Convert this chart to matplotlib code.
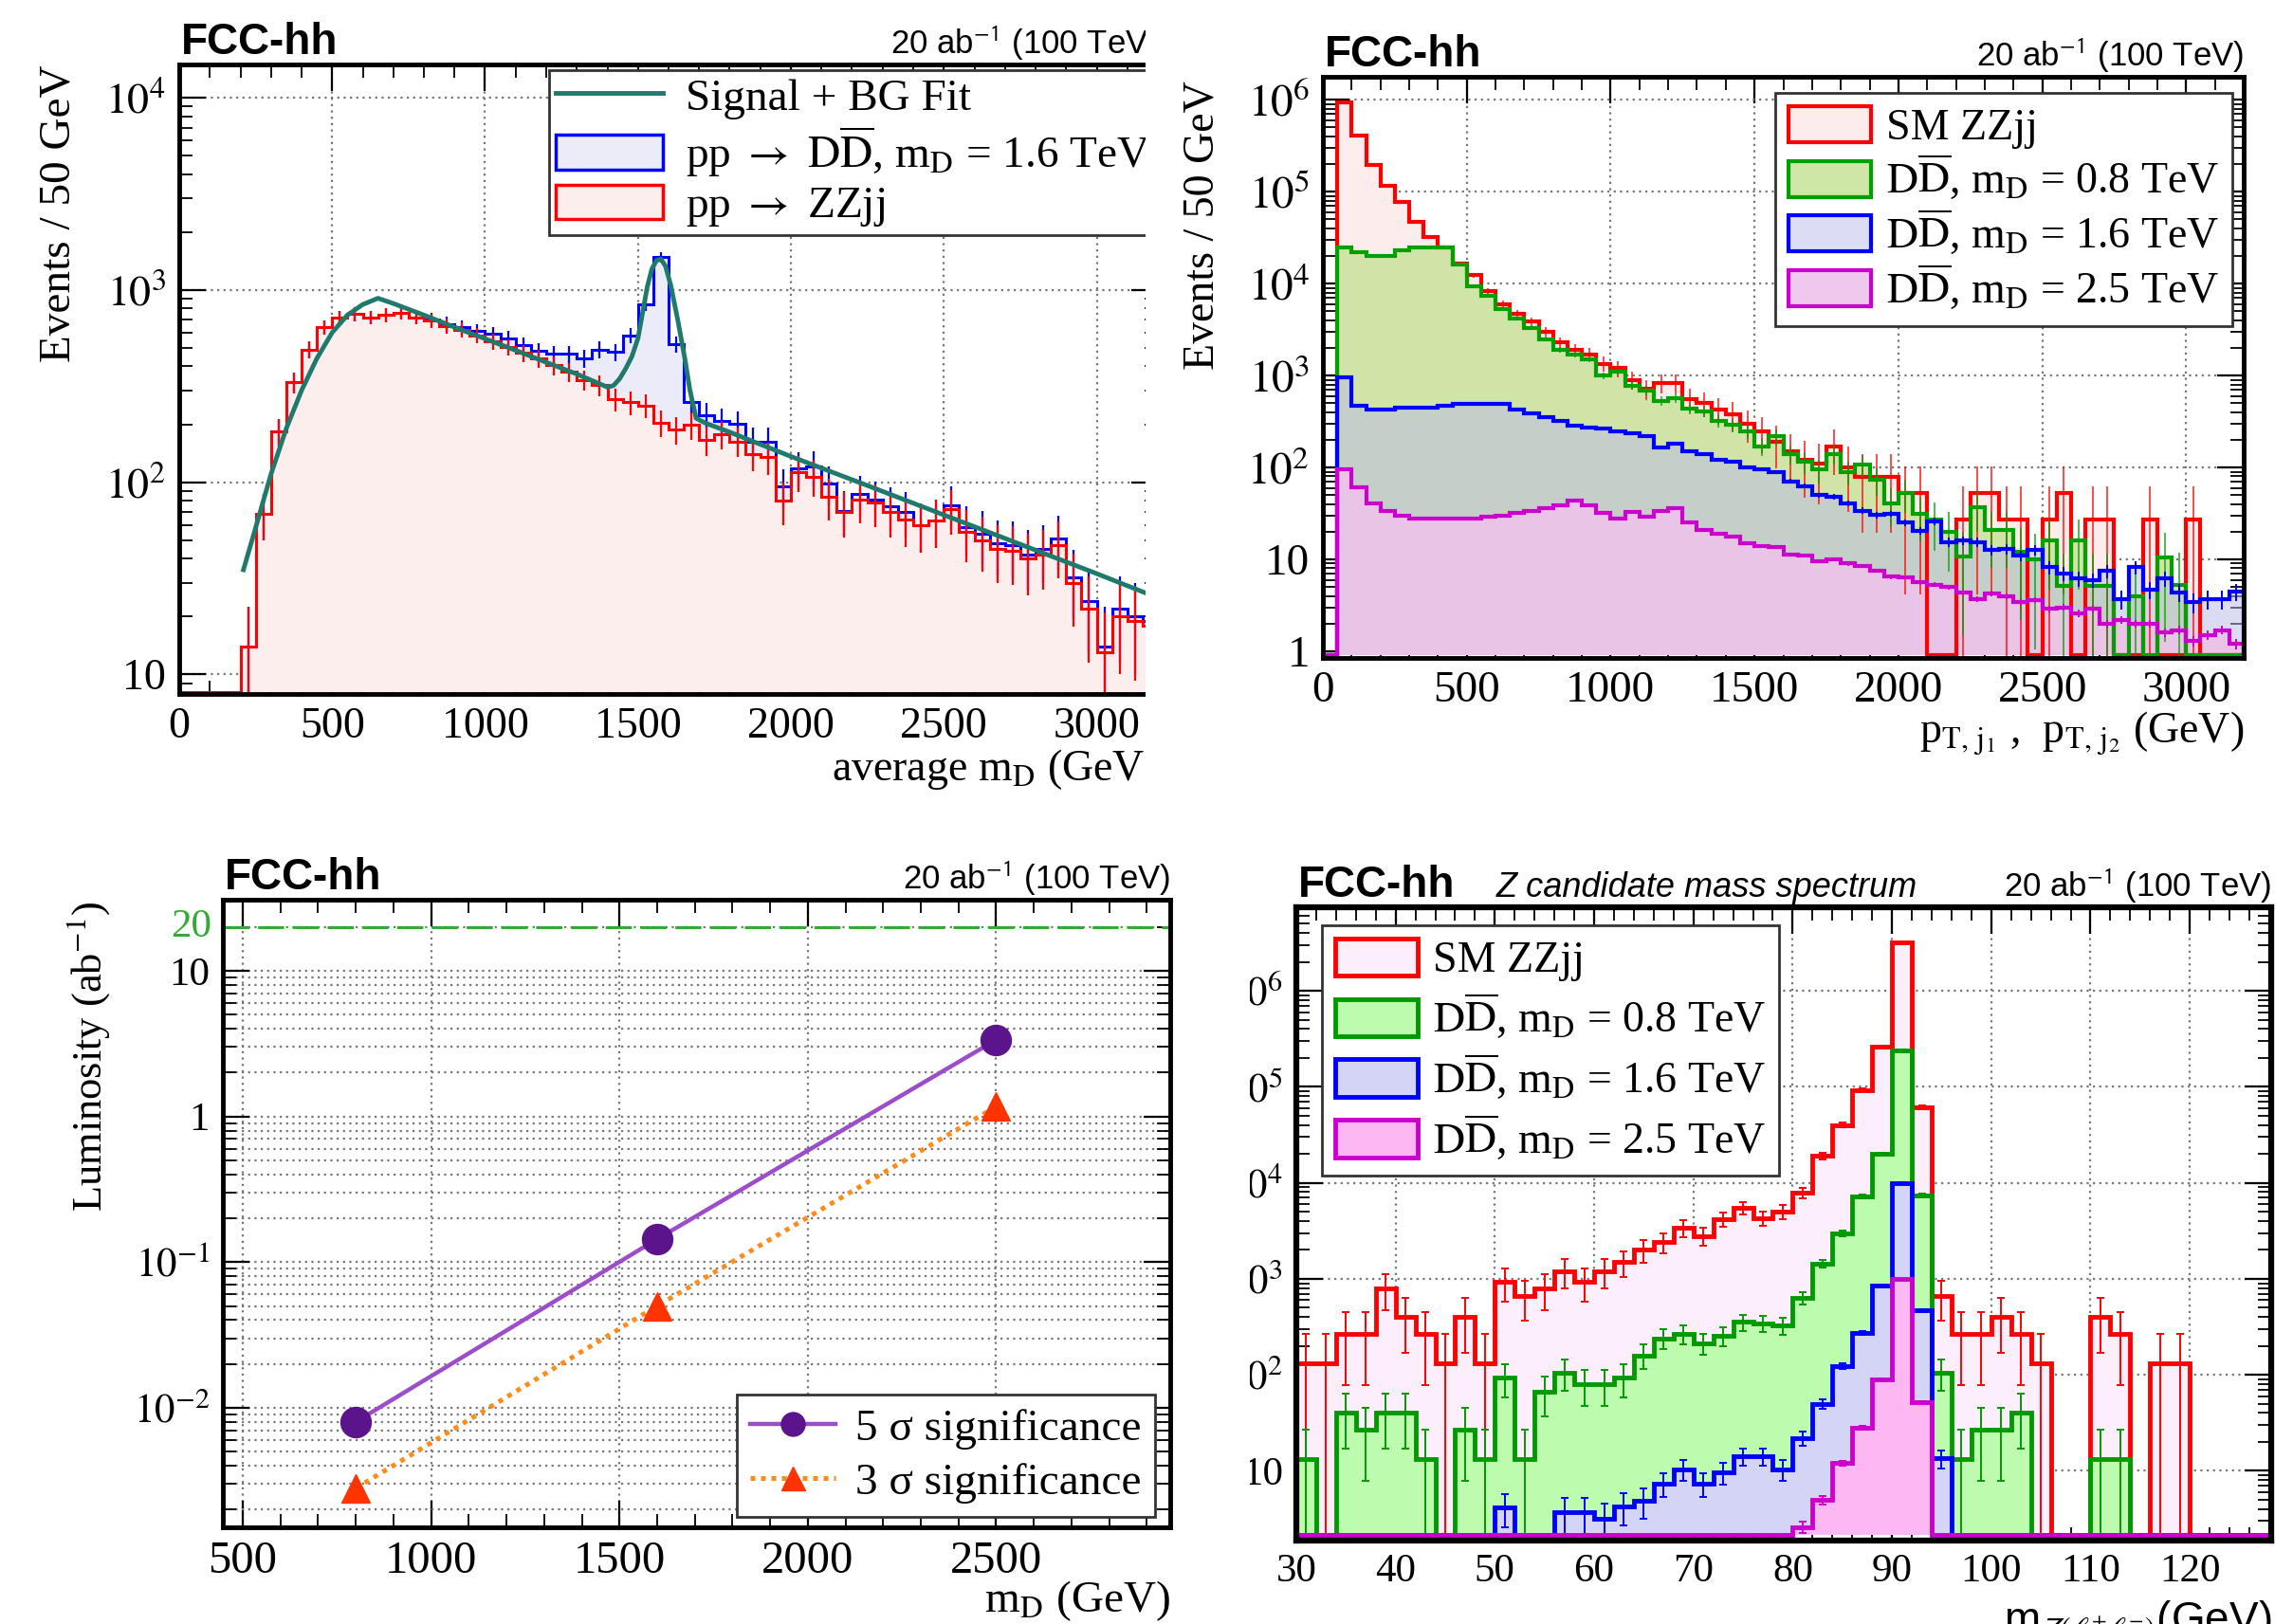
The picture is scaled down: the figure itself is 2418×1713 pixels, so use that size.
import numpy as np
import matplotlib
matplotlib.use("Agg")
import matplotlib.pyplot as plt
from matplotlib.patches import Patch, Rectangle
from matplotlib.lines import Line2D
from matplotlib.ticker import MultipleLocator, LogLocator, FuncFormatter, NullFormatter

plt.rcParams['font.family'] = ['Liberation Serif', 'DejaVu Serif']
plt.rcParams['mathtext.fontset'] = 'stix'

# ---------------- data ----------------
# average m_D, 50 GeV bins from 0 to 3200
edges_md = np.arange(0, 3250, 50)
zzjj_md = [0, 0, 0, 0, 14, 68, 183, 330, 490, 640, 720, 750, 720, 740, 760, 720,
           690, 650, 620, 580, 540, 505, 470, 440, 405, 375, 340, 320, 270, 260, 250, 204,
           187, 198, 166, 178, 163, 140, 135, 80, 113, 107, 84, 70, 81, 78, 70, 64,
           60, 63, 72, 55, 50, 45, 44, 40, 42, 47, 30, 22, 13, 20, 19, 18]
dd16_md = [0, 0, 0, 0, 0, 0, 0, 0, 0, 0, 0, 0, 0, 0, 0, 0,
           10, 15, 20, 30, 50, 55, 45, 40, 60, 90, 100, 170, 205, 320, 593, 1276,
           333, 64, 58, 31, 39, 23, 28, 15, 5, 13, 14, 1, 6, 3, 5, 6,
           0, 0, 4, 3, 4, 3, 3, 2, 3, 4, 2, 2, 1, 2, 1, 1]
fit_x = [210, 250, 300, 350, 400, 450, 500, 550, 600, 650, 700, 800, 900, 1000, 1100,
         1200, 1300, 1400, 1420, 1440, 1460, 1480, 1500, 1515, 1530, 1545, 1560, 1575,
         1590, 1607, 1630, 1653, 1670, 1690, 1720, 1800, 2000, 2250, 2500, 2750, 3000, 3200]
fit_y = [35, 58, 110, 190, 300, 440, 600, 740, 840, 905, 850, 740, 640, 557, 485,
         420, 365, 312, 318, 345, 390, 450, 560, 760, 1030, 1280, 1420, 1450,
         1330, 1060, 700, 442, 300, 215, 203, 182, 136, 96, 67.5, 47.5, 33.4, 25]

# leading jet pT, 50 GeV bins from 0 to 3200
edges_pt = np.arange(0, 3250, 50)
zzjj_pt = [0, 9.4e5, 4.1e5, 1.95e5, 1.17e5, 7.8e4, 4.7e4, 3.2e4, 2.5e4, 1.65e4, 1.24e4, 8.3e3, 6.0e3, 4.7e3, 3.9e3, 3.0e3,
           2.3e3, 1.9e3, 1.7e3, 1.35e3, 1.2e3, 900, 720, 830, 830, 560, 500, 430, 380, 300, 250, 190,
           150, 120, 110, 170, 100, 79, 79, 79, 53, 53, 0, 0, 27, 53, 53, 27,
           27, 0, 27, 53, 0, 27, 27, 0, 0, 27, 0, 0, 27, 0, 0, 0]
dd08_pt = [0, 2.5e4, 2.2e4, 2.0e4, 2.0e4, 2.3e4, 2.5e4, 2.5e4, 2.5e4, 1.6e4, 9.4e3, 7.3e3, 5.3e3, 4.2e3, 3.3e3, 2.5e3,
           1.9e3, 1.7e3, 1.5e3, 1.0e3, 1.1e3, 780, 690, 530, 570, 440, 410, 320, 290, 250, 170, 220,
           140, 115, 95, 140, 90, 107, 74, 41, 53, 31.5, 27, 20, 10.8, 37, 21, 21,
           12, 10, 16, 5.2, 16, 5.2, 5.2, 0, 4, 0, 10.4, 5.3, 0, 0, 0, 0]
dd16_pt = [0, 950, 470, 425, 425, 450, 450, 450, 470, 490, 490, 490, 490, 425, 390, 355,
           320, 285, 275, 265, 250, 235, 220, 165, 180, 150, 140, 120, 115, 100, 95, 90,
           71, 63, 50, 48, 41, 34, 30.5, 31.5, 25, 20.4, 25.9, 15.5, 16, 15.5, 12.6, 13,
           11, 12.6, 8.2, 7, 6.2, 6, 7.5, 3.7, 8.2, 4.7, 6.2, 4.4, 3.4, 3.7, 3.7, 4.5]
dd25_pt = [0, 95, 61, 41, 34, 30, 28, 27.5, 27.5, 28, 27.5, 29, 30, 32, 34, 36,
           39, 44, 39, 32, 28, 33, 29, 34, 36, 25, 21, 19, 17.5, 15, 14, 13.5,
           11.3, 11, 9.6, 10, 9, 8.5, 7.6, 6.5, 6.4, 5.6, 5.3, 5.0, 4.4, 3.7, 4.3, 4.0,
           3.4, 3.6, 2.9, 3.0, 2.6, 2.9, 2.0, 2.2, 2.0, 2.0, 1.6, 1.7, 1.3, 1.5, 1.7, 1.2]

# discovery reach
md_points = [800, 1600, 2500]
lumi_5sigma = [0.008, 0.144, 3.36]
lumi_3sigma = [0.0028, 0.050, 1.17]
lumi_target = 20

# Z candidate mass, 2 GeV bins from 30 to 128
edges_mz = np.arange(30, 130, 2)
zzjj_mz = [133, 133, 266, 266, 798, 399, 266, 133, 399, 133, 931, 665, 798, 1197, 931, 1197,
           1500, 2000, 2400, 3400, 2800, 4200, 5500, 4300, 5000, 7900, 1.9e4, 4.0e4, 9.3e4, 2.6e5, 3.2e6, 6.1e4,
           665, 266, 266, 399, 266, 133, 0, 0, 399, 266, 0, 133, 133, 0, 0, 0, 0]
dd08_mz = [13.3, 0, 40, 26.6, 40, 40, 13.3, 0, 26.6, 13.3, 93, 13.3, 66.5, 106, 80, 80,
           93, 160, 240, 270, 215, 255, 355, 345, 330, 630, 1440, 3000, 7200, 2.0e4, 2.4e5, 7400,
           106, 13.3, 26.6, 26.6, 40, 0, 0, 0, 13.3, 13.3, 0, 0, 0, 0, 0, 0, 0]
dd16_mz = [0, 0, 0, 0, 0, 0, 0, 0, 0, 0, 4.2, 0, 0, 3.7, 3.7, 3.2,
           4.3, 4.9, 7.4, 10.4, 7.4, 9.6, 14.3, 14.3, 10.4, 22, 50, 124, 272, 850, 1.0e4, 470,
           13.5, 0, 0, 0, 0, 0, 0, 0, 0, 0, 0, 0, 0, 0, 0, 0, 0]
dd25_mz = [0, 0, 0, 0, 0, 0, 0, 0, 0, 0, 0, 0, 0, 0, 0, 0,
           0, 0, 0, 0, 0, 0, 0, 0, 0, 2.6, 5.0, 12, 28, 90, 1000, 52,
           0, 0, 0, 0, 0, 0, 0, 0, 0, 0, 0, 0, 0, 0, 0, 0, 0]

# ---------------- helpers ----------------
W, H = 2418, 1713
fig = plt.figure(figsize=(W / 100, H / 100), dpi=100)


def axes_px(l, t, r, b):
    return fig.add_axes([l / W, 1 - b / H, (r - l) / W, (b - t) / H])


def text_px(x, y, s, **kw):
    return fig.text(x / W, 1 - y / H, s, **kw)


def log_label(v, pos):
    if np.isclose(v, 1):
        return '1'
    if np.isclose(v, 10):
        return '10'
    return r'$10^{%d}$' % round(np.log10(v))


def root_style(ax, xmaj, xmin, xsize=33, ysize=33, frame=3.5):
    for s in ax.spines.values():
        s.set_linewidth(frame)
        s.set_zorder(20)
    ax.set_yscale('log')
    ax.xaxis.set_major_locator(MultipleLocator(xmaj))
    ax.xaxis.set_minor_locator(MultipleLocator(xmin))
    ax.yaxis.set_major_locator(LogLocator(base=10, numticks=30))
    ax.yaxis.set_minor_locator(LogLocator(base=10, subs=np.arange(2, 10), numticks=30))
    ax.yaxis.set_major_formatter(FuncFormatter(log_label))
    ax.yaxis.set_minor_formatter(NullFormatter())
    ax.tick_params(which='both', direction='in', top=True, right=True)
    ax.tick_params(axis='x', labelsize=xsize)
    ax.tick_params(axis='y', labelsize=ysize)
    ax.tick_params(which='major', length=20, width=1.6, pad=10)
    ax.tick_params(which='minor', length=10, width=1.3)
    ax.grid(True, which='major', ls=(0, (1, 2)), color='#777777', lw=1.6)
    ax.set_axisbelow(True)


def hist(ax, edges, vals, floor, line, fill, lw, alpha=1.0, fill_z=1, line_z=5):
    v = np.maximum(np.asarray(vals, float), floor)
    if fill is not None:
        ax.stairs(v, edges, baseline=floor, fill=True, facecolor=fill,
                  edgecolor='none', alpha=alpha, zorder=fill_z)
    ax.stairs(v, edges, baseline=floor, color=line, lw=lw, zorder=line_z)


def errors(ax, edges, vals, weight, color, lw, cap=0, z=4, alpha=1.0):
    v = np.asarray(vals, float)
    c = 0.5 * (edges[:-1] + edges[1:])
    keep = v > 0
    err = np.sqrt(weight * v[keep])
    low = np.minimum(err, v[keep] * (1 - 1e-6))
    ax.errorbar(c[keep], v[keep], yerr=[low, err], fmt='none', ecolor=color,
                elinewidth=lw, capsize=cap, capthick=lw, zorder=z, alpha=alpha)


def header(ax_l, ax_r, top):
    text_px(ax_l + 2, top - 11, 'FCC-hh', family='Liberation Sans', weight='bold',
            fontsize=33, ha='left', va='baseline')
    text_px(ax_r, top - 11, r'20 ab$^{\mathsf{-1}}$ (100 TeV)', family='Liberation Sans',
            fontsize=25, ha='right', va='baseline')


def root_legend(ax, handles, labels, loc, anchor_px, box, size, pad=0.3, **kw):
    l, t, r, b = box
    ax_anchor = ((anchor_px[0] - l) / (r - l), (b - anchor_px[1]) / (b - t))
    leg = ax.legend(handles, labels, loc=loc, bbox_to_anchor=ax_anchor, fontsize=size,
                    borderaxespad=0, borderpad=pad, fancybox=False, edgecolor='#333333',
                    framealpha=1, **kw)
    leg.get_frame().set_linewidth(2)
    leg.set_zorder(30)
    return leg


# ---------------- average m_D ----------------
L1, T1, R1, B1 = 189, 68, 1221, 732
ax1 = axes_px(L1, T1, R1, B1)
root_style(ax1, 500, 100)
ax1.set_xlim(0, 3200)
ax1.set_ylim(7.9, 1.49e4)
floor1 = 8.1
stack_md = np.array(zzjj_md, float) + np.array(dd16_md, float)
hist(ax1, edges_md, stack_md, floor1, '#0000ff', '#ececf8', 2.2, fill_z=1, line_z=5)
hist(ax1, edges_md, zzjj_md, floor1, '#ff0000', '#fdeeee', 2.2, fill_z=2, line_z=6)
errors(ax1, edges_md, stack_md, 5, '#0000ff', 1.6, z=5)
errors(ax1, edges_md, zzjj_md, 5, '#ff0000', 1.6, z=6)
ax1.plot(fit_x, fit_y, color='#207a6c', lw=3.5, zorder=8)
root_legend(ax1,
            [Line2D([], [], color='#207a6c', lw=3.5),
             Patch(facecolor='#ececf8', edgecolor='#0000ff', lw=2.5),
             Patch(facecolor='#fdeeee', edgecolor='#ff0000', lw=2.5)],
            ['Signal + BG Fit',
             r'pp $\rightarrow$ $\mathrm{D\overline{D}}$, m$_{\mathrm{D}}$ = 1.6 TeV',
             r'pp $\rightarrow$ ZZjj'],
            'upper left', (579, 74), (L1, T1, R1, B1), 34, pad=0.15,
            handlelength=2.4, handleheight=0.8, handletextpad=0.5, labelspacing=0.12)
header(L1, R1, T1)
text_px(R1, 823, r'average m$_{\mathrm{D}}$ (GeV)', fontsize=33, ha='right', va='baseline')
text_px(62, T1, 'Events / 50 GeV', fontsize=34, rotation=90, ha='center', va='top')

# ---------------- jet pT ----------------
L2, T2, R2, B2 = 1395, 81, 2366, 694
ax2 = axes_px(L2, T2, R2, B2)
root_style(ax2, 500, 100, xsize=34, ysize=34)
ax2.set_xlim(0, 3200)
ax2.set_ylim(0.847, 1.78e6)
floor2 = 0.9
hist(ax2, edges_pt, zzjj_pt, floor2, '#ff0000', '#fdecec', 3, fill_z=1, line_z=5)
hist(ax2, edges_pt, dd08_pt, floor2, '#00a000', '#d0e4a8', 3, fill_z=2, line_z=6)
hist(ax2, edges_pt, dd16_pt, floor2, '#0000ff', '#b9bbeb', 3, alpha=0.5, fill_z=3, line_z=7)
hist(ax2, edges_pt, dd25_pt, floor2, '#cc00cc', '#e9c4e6', 3, fill_z=4, line_z=8)
errors(ax2, edges_pt, zzjj_pt, 45, '#ff0000', 1.4, z=5, alpha=0.7)
errors(ax2, edges_pt, dd08_pt, 8, '#00a000', 1.4, z=6, alpha=0.7)
errors(ax2, edges_pt, dd16_pt, 0.2, '#0000ff', 1.4, z=7)
errors(ax2, edges_pt, dd25_pt, 0.02, '#cc00cc', 1.4, z=8)
root_legend(ax2,
            [Patch(facecolor='#fdecec', edgecolor='#ff0000', lw=3),
             Patch(facecolor='#cfe6a6', edgecolor='#00a000', lw=3),
             Patch(facecolor='#dcdcf4', edgecolor='#0000ff', lw=3),
             Patch(facecolor='#f0c8ee', edgecolor='#cc00cc', lw=3)],
            ['SM ZZjj',
             r'$\mathrm{D\overline{D}}$, m$_{\mathrm{D}}$ = 0.8 TeV',
             r'$\mathrm{D\overline{D}}$, m$_{\mathrm{D}}$ = 1.6 TeV',
             r'$\mathrm{D\overline{D}}$, m$_{\mathrm{D}}$ = 2.5 TeV'],
            'upper right', (2354, 98), (L2, T2, R2, B2), 33,
            handlelength=1.9, handleheight=0.9, handletextpad=0.35, labelspacing=0.12)
header(L2, R2, T2)
text_px(R2, 783, r'p$_{\mathrm{T,\,j_{1}}}$ ,  p$_{\mathrm{T,\,j_{2}}}$ (GeV)',
        fontsize=33, ha='right', va='baseline')
text_px(1268, 85, 'Events / 50 GeV', fontsize=33, rotation=90, ha='center', va='top')

# ---------------- luminosity reach ----------------
L3, T3, R3, B3 = 235, 949, 1234, 1611
ax3 = axes_px(L3, T3, R3, B3)
root_style(ax3, 500, 100, xsize=35, ysize=31)
ax3.grid(True, which='minor', axis='y', ls=(0, (1, 2)), color='#777777', lw=1.6)
ax3.set_xlim(447, 2962)
ax3.set_ylim(1.51e-3, 30.8)
ax3.axhline(lumi_target, color='#33aa33', lw=2.2, ls=(0, (9, 3)), zorder=3)
ax3.text(-0.012, lumi_target, str(lumi_target), color='#33aa33', fontsize=31,
         ha='right', va='center', transform=ax3.get_yaxis_transform())
ax3.plot(md_points, lumi_5sigma, color='#9b4dca', lw=3.2, zorder=5)
ax3.plot(md_points, lumi_5sigma, 'o', ms=23, color='#5c148c', zorder=6)
ax3.plot(md_points, lumi_3sigma, color='#ff8c1a', lw=3.6, ls=(0, (1, 1.2)), zorder=5)
ax3.plot(md_points, lumi_3sigma, '^', ms=22, color='#ff3300', zorder=6)
root_legend(ax3,
            [Line2D([], [], color='#9b4dca', lw=3.2, marker='o', ms=18,
                    mfc='#5c148c', mec='#5c148c'),
             Line2D([], [], color='#ff8c1a', lw=3.6, ls=(0, (1, 1.2)), marker='^', ms=18,
                    mfc='#ff3300', mec='#ff3300')],
            ['5 \u03c3 significance', '3 \u03c3 significance'],
            'lower right', (1218, 1600), (L3, T3, R3, B3), 34,
            handlelength=1.9, handletextpad=0.45, labelspacing=0.3)
header(L3, R3, T3)
text_px(R3, 1700, r'm$_{\mathrm{D}}$ (GeV)', fontsize=34, ha='right', va='baseline')
text_px(93, 950, r'Luminosity (ab$^{\mathrm{-1}}$)', fontsize=32, rotation=90,
        ha='center', va='top')

# ---------------- Z candidate mass ----------------
L4, T4, R4, B4 = 1367, 957, 2395, 1625
ax4 = axes_px(L4, T4, R4, B4)
root_style(ax4, 10, 2, xsize=31, ysize=31, frame=4.5)
ax4.set_xlim(30, 128.2)
ax4.set_ylim(1.88, 7.4e6)
floor4 = 2.15
hist(ax4, edges_mz, zzjj_mz, floor4, '#ff0000', '#fdeefc', 3.5, fill_z=1, line_z=5)
hist(ax4, edges_mz, dd08_mz, floor4, '#009900', '#bdfcae', 3.5, fill_z=2, line_z=6)
hist(ax4, edges_mz, dd16_mz, floor4, '#0000ff', '#d4d4f7', 3.5, fill_z=3, line_z=7)
hist(ax4, edges_mz, dd25_mz, floor4, '#cc00cc', '#fdb8f4', 3.5, fill_z=4, line_z=8)
errors(ax4, edges_mz, zzjj_mz, 133, '#ff0000', 1.4, cap=3, z=5)
errors(ax4, edges_mz, dd08_mz, 13.3, '#009900', 1.4, cap=3, z=6)
errors(ax4, edges_mz, dd16_mz, 0.6, '#0000ff', 1.4, cap=3, z=7)
errors(ax4, edges_mz, dd25_mz, 0.05, '#cc00cc', 1.4, cap=3, z=8)
root_legend(ax4,
            [Patch(facecolor='#fdeefc', edgecolor='#ff0000', lw=3.5),
             Patch(facecolor='#bdfcae', edgecolor='#009900', lw=3.5),
             Patch(facecolor='#d4d4f7', edgecolor='#0000ff', lw=3.5),
             Patch(facecolor='#fdb8f4', edgecolor='#cc00cc', lw=3.5)],
            ['SM ZZjj',
             r'$\mathrm{D\overline{D}}$, m$_{\mathrm{D}}$ = 0.8 TeV',
             r'$\mathrm{D\overline{D}}$, m$_{\mathrm{D}}$ = 1.6 TeV',
             r'$\mathrm{D\overline{D}}$, m$_{\mathrm{D}}$ = 2.5 TeV'],
            'upper left', (1394, 976), (L4, T4, R4, B4), 33,
            handlelength=1.9, handleheight=0.95, handletextpad=0.35, labelspacing=0.25)
header(L4, R4, T4)
text_px(1578, T4 - 11, 'Z candidate mass spectrum', family='Liberation Sans',
        style='italic', fontsize=26, ha='left', va='baseline')
text_px(R4, 1722, r'm$_{\mathsf{Z}(\ell^{+}\ell^{-})}$(GeV)', family='Liberation Sans',
        fontsize=33, ha='right', va='baseline')

# white gutters between the page columns
for x0, y0, x1, y1 in [(1208, 0, 1247, 870), (1251, 880, 1318, H)]:
    fig.add_artist(Rectangle((x0 / W, 1 - y1 / H), (x1 - x0) / W, (y1 - y0) / H,
                             transform=fig.transFigure, facecolor='white',
                             edgecolor='none', zorder=100))

fig.savefig('out.png', dpi=100)
